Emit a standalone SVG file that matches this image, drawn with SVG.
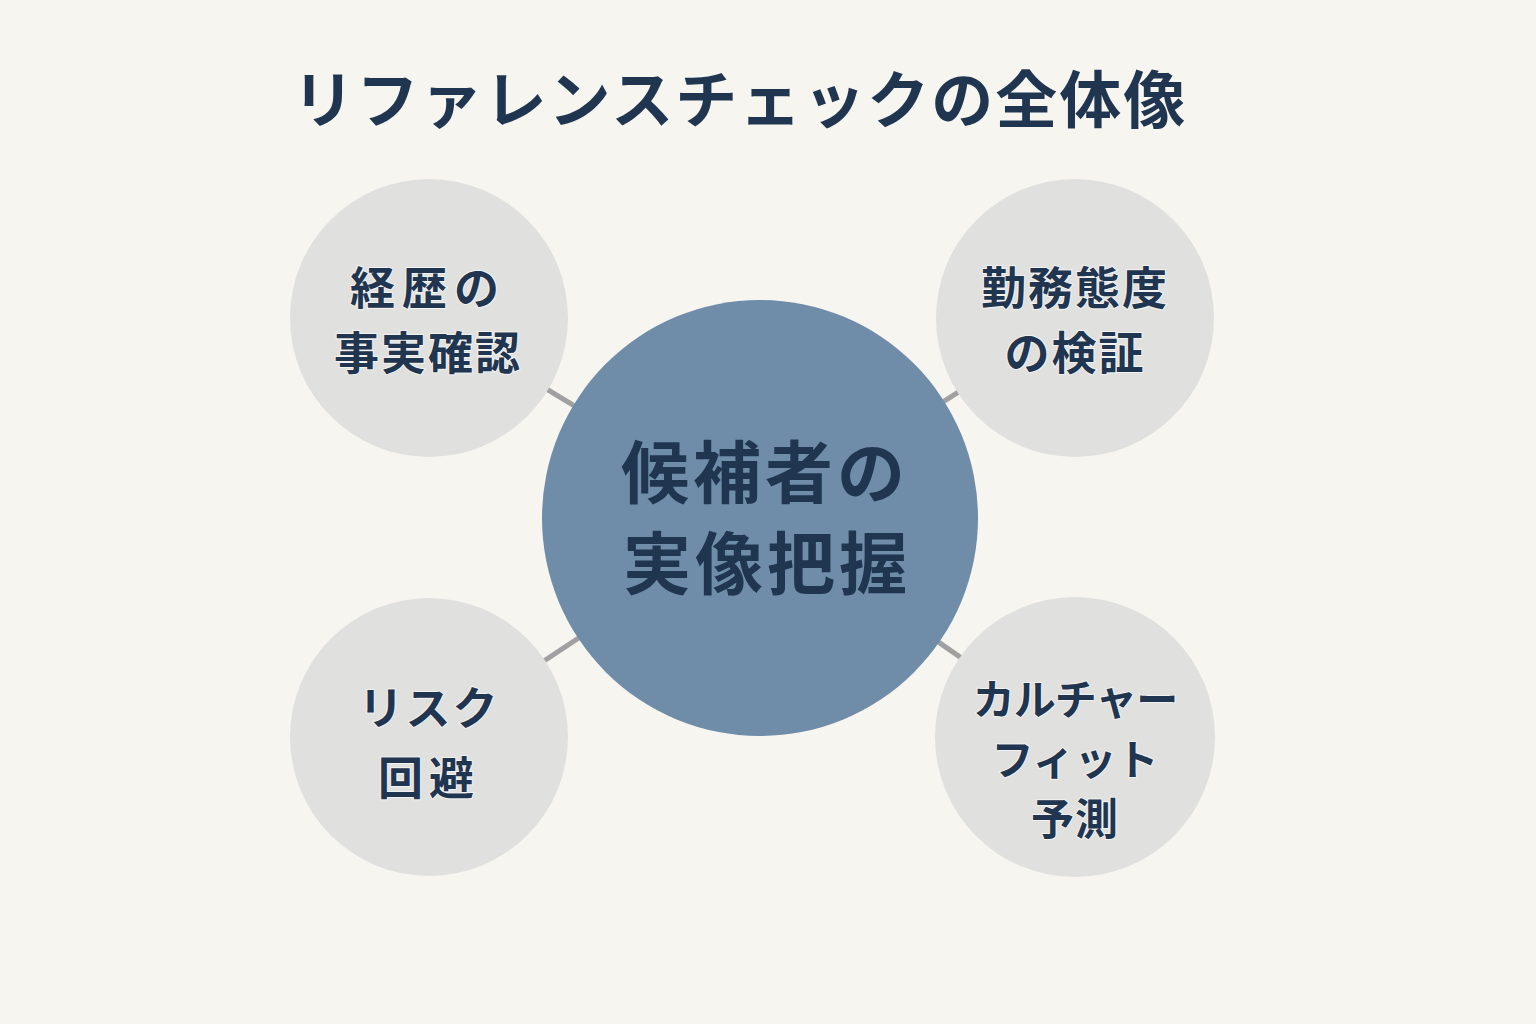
<svg xmlns="http://www.w3.org/2000/svg" width="1536" height="1024" viewBox="0 0 1536 1024">
<style>
.t{font-family:"Noto Sans CJK JP","Noto Sans",sans-serif;font-weight:700;fill:#1f3550;text-anchor:middle}
.sat{fill:#e0e0de}
.lbl{stroke:#f2f2f0;stroke-width:2;paint-order:stroke}
.conn{stroke:#a0a0a0;stroke-width:5}
</style>
<rect width="1536" height="1024" fill="#f7f5f0"/>
<text class="t" x="740" y="123" font-size="62" letter-spacing="2">リファレンスチェックの全体像</text>
<g id="connectors">
<line class="conn" x1="760" y1="518" x2="429" y2="318"/>
<line class="conn" x1="760" y1="518" x2="1075" y2="318"/>
<line class="conn" x1="760" y1="518" x2="429" y2="737"/>
<line class="conn" x1="760" y1="518" x2="1075" y2="737"/>
</g>
<g id="n1">
<circle class="sat" cx="429" cy="318" r="139"/>
<text class="t lbl" x="428" y="305" font-size="45" letter-spacing="7">経歴の</text>
<text class="t lbl" x="428" y="370" font-size="45" letter-spacing="2">事実確認</text>
</g>
<g id="n2">
<circle class="sat" cx="1075" cy="318" r="139"/>
<text class="t lbl" x="1075" y="305" font-size="45" letter-spacing="2">勤務態度</text>
<text class="t lbl" x="1075" y="370" font-size="45" letter-spacing="2">の検証</text>
</g>
<g id="n3">
<circle class="sat" cx="429" cy="737" r="139"/>
<text class="t lbl" x="429" y="725" font-size="45" letter-spacing="2">リスク</text>
<text class="t lbl" x="429" y="795" font-size="45" letter-spacing="6">回避</text>
</g>
<g id="n4">
<circle class="sat" cx="1075" cy="737" r="140"/>
<text class="t lbl" x="1075" y="715" font-size="42" letter-spacing="-1">カルチャー</text>
<text class="t lbl" x="1075" y="775" font-size="42" letter-spacing="0">フィット</text>
<text class="t lbl" x="1075" y="835" font-size="43" letter-spacing="1">予測</text>
</g>
<g id="center">
<circle cx="760" cy="518" r="218" fill="#6f8ca8"/>
<text class="t" x="765" y="498" font-size="68" letter-spacing="4">候補者の</text>
<text class="t" x="767" y="589" font-size="68" letter-spacing="4">実像把握</text>
</g>
</svg>
